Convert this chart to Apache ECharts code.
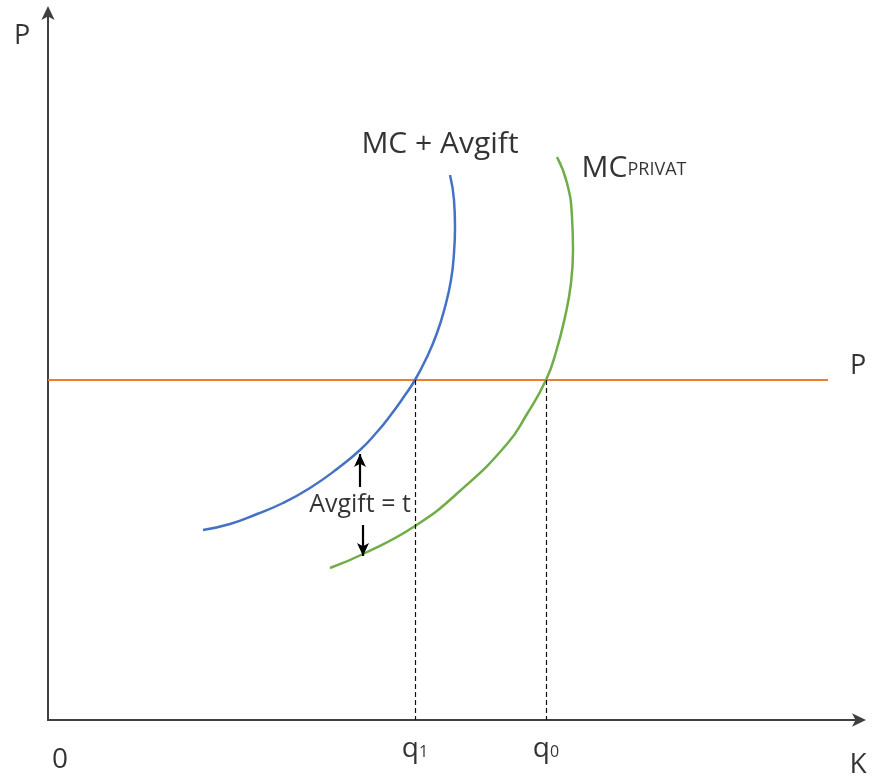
<!DOCTYPE html>
<html>
<head>
<meta charset="utf-8">
<script src="https://cdn.jsdelivr.net/npm/echarts@6/dist/echarts.min.js"></script>
<style>html,body{margin:0;padding:0;background:#fff}#c{width:876px;height:780px}</style>
</head>
<body>
<div id="c"></div>
<script>
// Curve data (x = quantity K, y = price P)
const mcAvgift = [[155,190],[182,196],[209,206],[235,217],[262,232],[289,251],[312,270],[329,288],[342,304],[355,322],[367,340],[379,363],[389,387],[397,413],[403,440],[406,467],[407,493],[406,520],[402,545]];
const mcPrivat = [[282,152],[315,166],[367,194],[413,230],[459,276],[479,306],[498,340],[508,368],[517,403],[523,437],[525,470],[524,503],[519,537],[509,563]];
const priceLevel = 340;
const priceLineX = [0, 780];
const q1 = 367;
const q0 = 498;
const taxArrowUp = [312, 233, 266];   // x, from y, to y
const taxArrowDown = [315, 195, 164];

const FONT = 'Open Sans';
const INK = '#000000';
const chart = echarts.init(document.getElementById('c'), null, {renderer:'canvas'});

function lbl(x, y, formatter, extra) {
  return {value:[x,y], label:Object.assign({show:true, position:'inside', formatter:formatter, color:INK, fontFamily:FONT, fontSize:22}, extra||{})};
}
function subRich(big, small, pad) {
  return {a:{fontSize:big, fontFamily:FONT, color:INK, verticalAlign:'bottom'}, b:{fontSize:small, fontFamily:FONT, color:INK, verticalAlign:'bottom', padding:[0,0,pad,0]}};
}

const option = {
  animation:false,
  backgroundColor:'#ffffff',
  grid:{left:48, right:14, top:10, bottom:60, containLabel:false},
  xAxis:{type:'value', min:0, max:814, axisLine:{show:true, lineStyle:{color:'#404040', width:2}, symbol:['none','arrow'], symbolSize:[10,14], symbolOffset:[0,4]}, axisTick:{show:false}, axisLabel:{show:false}, splitLine:{show:false}},
  yAxis:{type:'value', min:0, max:710, axisLine:{show:true, lineStyle:{color:'#404040', width:2}, symbol:['none','arrow'], symbolSize:[10,14], symbolOffset:[0,4]}, axisTick:{show:false}, axisLabel:{show:false}, splitLine:{show:false}},
  series:[
    {type:'line', name:'P', data:priceLineX.map(x=>[x,priceLevel]), symbol:'none', lineStyle:{color:'#ED7D31', width:2}, z:2},
    {type:'line', name:'MC + Avgift', data:mcAvgift, smooth:0.5, symbol:'none', lineStyle:{color:'#4472C4', width:2.5}, z:3},
    {type:'line', name:'MC privat', data:mcPrivat, smooth:0.5, symbol:'none', lineStyle:{color:'#70AD47', width:2.5}, z:3,
      markLine:{silent:true, animation:false, label:{show:false}, symbol:['none','none'],
        lineStyle:{color:'#111', width:1.2, type:[5,3]},
        data:[
          [{coord:[q1,priceLevel]},{coord:[q1,0]}],
          [{coord:[q0,priceLevel]},{coord:[q0,0]}]
        ]}},
    {type:'line', name:'arrows', data:[], symbol:'none',
      markLine:{silent:true, animation:false, label:{show:false}, symbol:['none','arrow'], symbolSize:[9,13],
        lineStyle:{color:'#000', width:2.2, type:'solid'},
        data:[
          [{coord:[taxArrowUp[0],taxArrowUp[1]]},{coord:[taxArrowUp[0],taxArrowUp[2]]}],
          [{coord:[taxArrowDown[0],taxArrowDown[1]]},{coord:[taxArrowDown[0],taxArrowDown[2]]}]
        ]}},
    {type:'scatter', name:'labels', symbolSize:0, clip:false, silent:true, z:10,
      data:[
        lbl(-26, 684, 'P', {fontSize:27}),
        lbl(810, 354, 'P', {fontSize:27}),
        lbl(12, -40, '0', {fontSize:28}),
        lbl(810, -45, 'K', {fontSize:28}),
        lbl(q1, -29, '{a|q}{b|1}', {rich:subRich(28, 16, 3)}),
        lbl(q0, -29, '{a|q}{b|0}', {rich:subRich(28, 16, 3)}),
        lbl(392, 576, 'MC + Avgift', {fontSize:30}),
        lbl(586, 552, '{a|MC}{b|PRIVAT}', {rich:subRich(30, 18, 4)}),
        lbl(312, 215, 'Avgift = t', {fontSize:25})
      ]}
  ]
};
chart.setOption(option);
</script>
</body>
</html>
